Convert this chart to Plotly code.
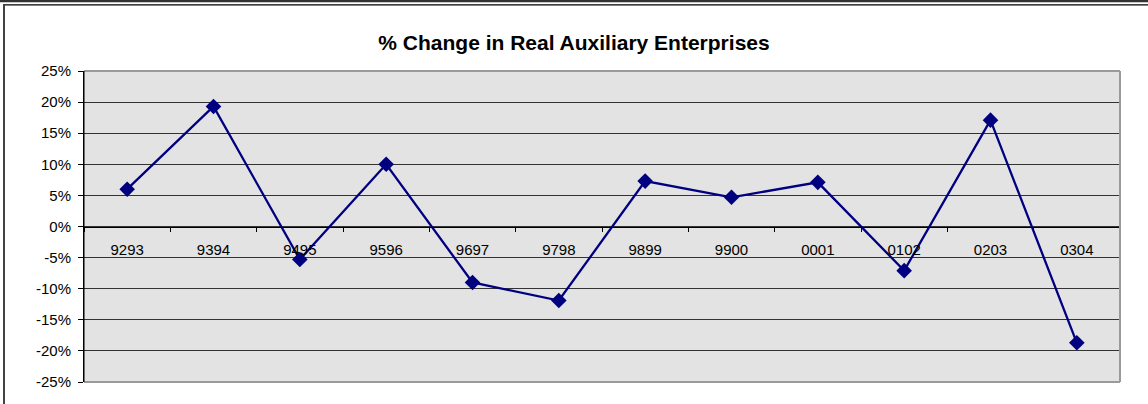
import plotly.graph_objects as go

categories = ["9293", "9394", "9495", "9596", "9697", "9798", "9899", "9900", "0001", "0102", "0203", "0304"]
pct_change = [6.0, 19.3, -5.3, 10.0, -9.0, -11.9, 7.3, 4.7, 7.1, -7.1, 17.1, -18.7]
y_tick_vals = [25, 20, 15, 10, 5, 0, -5, -10, -15, -20, -25]
y_tick_text = ["25%", "20%", "15%", "10%", "5%", "0%", "-5%", "-10%", "-15%", "-20%", "-25%"]

W, H = 1148, 404
L, R, T, B = 84, 1120, 71, 381.7

def px(xp):
    return (xp - L) / (R - L)

def py(yp):
    return (B - yp) / (B - T)

fig = go.Figure()
fig.add_trace(go.Scatter(
    x=categories, y=pct_change, mode="lines+markers",
    line=dict(color="#000080", width=2.3),
    marker=dict(symbol="diamond", size=12, color="#000080"),
    hoverinfo="x+y",
))

font = "Liberation Sans, Arial, sans-serif"
fig.update_layout(
    width=W, height=H, autosize=False,
    margin=dict(l=L, r=W - R, t=T, b=H - B, pad=0),
    paper_bgcolor="white", plot_bgcolor="#E3E3E3",
    showlegend=False,
    title=dict(text="<b>% Change in Real Auxiliary Enterprises</b>", x=0.5, xanchor="center",
               y=1 - 43 / H, yanchor="middle", font=dict(family=font, size=21, color="black")),
    font=dict(family=font, size=15, color="black"),
    xaxis=dict(type="category", range=[-0.5, 11.5], anchor="free", position=0.5,
               showline=True, linecolor="black", linewidth=1,
               ticks="outside", ticklen=4, tickcolor="black", tickson="boundaries",
               showgrid=False, zeroline=False, ticklabelstandoff=9,
               tickfont=dict(family=font, size=15, color="black")),
    yaxis=dict(range=[-25, 25], tickvals=y_tick_vals, ticktext=y_tick_text,
               showline=True, linecolor="black", linewidth=1,
               ticks="outside", ticklen=5, tickcolor="black",
               showgrid=True, gridcolor="#333333", gridwidth=1, zeroline=False,
               ticklabelstandoff=4,
               tickfont=dict(family=font, size=15, color="black")),
    shapes=[
        dict(type="line", xref="paper", yref="paper", x0=0, x1=1, y0=1, y1=1,
             line=dict(color="#9A9A9A", width=2), layer="above"),
        dict(type="line", xref="paper", yref="paper", x0=1, x1=1, y0=0, y1=1,
             line=dict(color="#9A9A9A", width=2), layer="above"),
        dict(type="line", xref="paper", yref="paper", x0=0, x1=1, y0=0, y1=0,
             line=dict(color="#9A9A9A", width=2), layer="above"),
        dict(type="line", xref="paper", yref="paper", x0=0, x1=0, y0=0, y1=1,
             line=dict(color="black", width=1), layer="above"),
        dict(type="line", xref="paper", yref="paper", x0=px(0), x1=px(W), y0=py(1), y1=py(1),
             line=dict(color="#333333", width=2.5)),
        dict(type="line", xref="paper", yref="paper", x0=px(3), x1=px(W), y0=py(5), y1=py(5),
             line=dict(color="black", width=1.2)),
        dict(type="line", xref="paper", yref="paper", x0=px(4), x1=px(4), y0=py(5), y1=py(H),
             line=dict(color="#444444", width=2)),
    ],
)

fig.write_html("out.html", config={"displayModeBar": False},
               post_script="document.body.style.margin='0';document.body.style.overflow='hidden';")
